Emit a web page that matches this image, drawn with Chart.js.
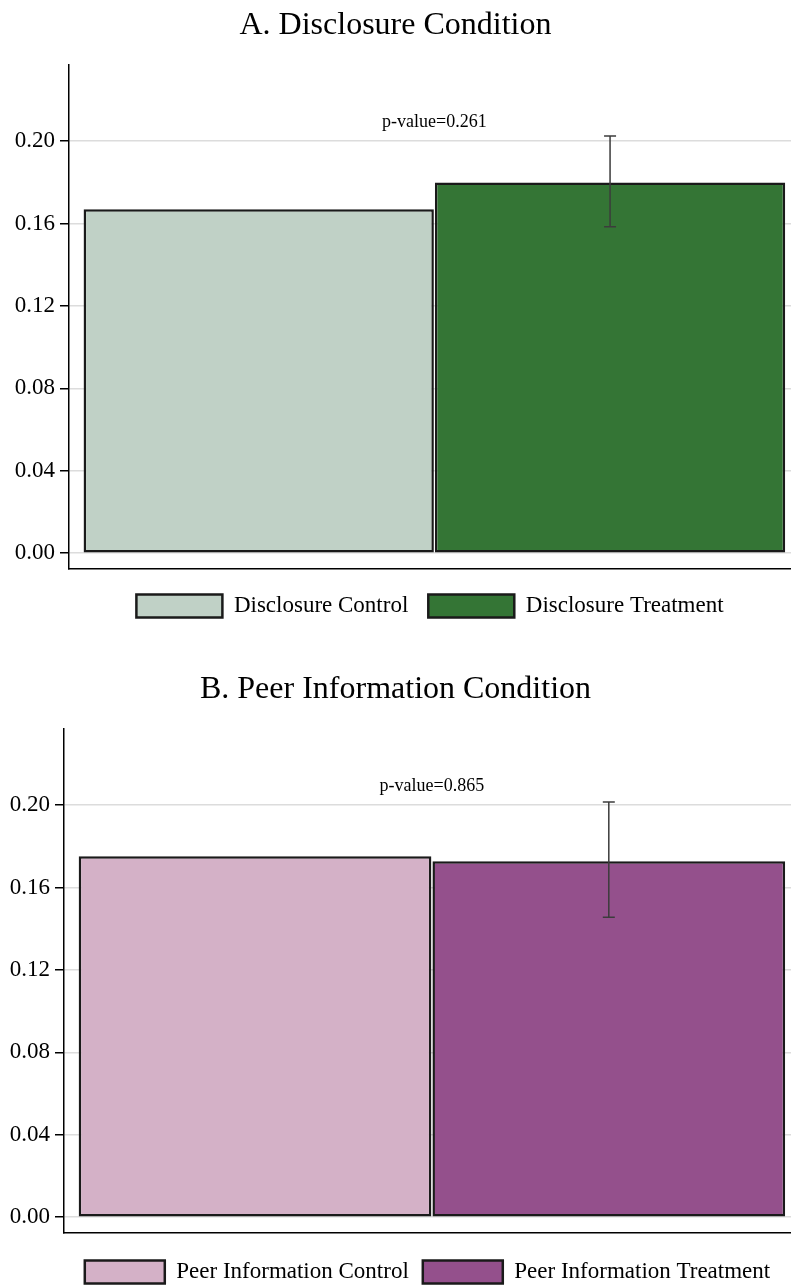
<!DOCTYPE html>
<html>
<head>
<meta charset="utf-8">
<script src="https://cdn.jsdelivr.net/npm/chart.js@4.4.1/dist/chart.umd.min.js"></script>
<style>
    body { margin: 0; background: #ffffff; }
    canvas { display: block; }
</style>
</head>
<body>
<canvas id="disclosureChart" width="791" height="664"></canvas>
<canvas id="peerChart" width="791" height="622"></canvas>
<script>
// shared axis setup
const TICKS = [0, 0.04, 0.08, 0.12, 0.16, 0.20];
const Y_RANGE = [-0.0077, 0.237];
const X_POSITIONS = [0, 1];
const X_RANGE = [-0.54, 1.515];
const PVALUE_AT = 0.209;

// A. Disclosure Condition
const DISC_LABELS = ['Disclosure Control', 'Disclosure Treatment'];
const DISC_MEANS = [0.167, 0.180];
const DISC_CI_LOW = [null, 0.1585];
const DISC_CI_HIGH = [null, 0.2025];
const DISC_PVALUE = 'p-value=0.261';

// B. Peer Information Condition
const PEER_LABELS = ['Peer Information Control', 'Peer Information Treatment'];
const PEER_MEANS = [0.1752, 0.1728];
const PEER_CI_LOW = [null, 0.1456];
const PEER_CI_HIGH = [null, 0.2015];
const PEER_PVALUE = 'p-value=0.865';

const SERIF = "'Liberation Serif', 'Times New Roman', serif";
const EDGE = '#1a1a1a';

// draws the CI whiskers and the p-value label
const errorBarPlugin = {
    id: 'errorBars',
    afterDatasetsDraw(chart, args, opts) {
        const ctx = chart.ctx;
        const yScale = chart.scales.y;
        const xScale = chart.scales.x;
        const bars = chart.getDatasetMeta(0).data;
        ctx.save();
        ctx.strokeStyle = '#3c3c3c';
        ctx.lineWidth = 1.5;
        bars.forEach(function (bar, i) {
            if (opts.low[i] == null) return;
            const yLo = yScale.getPixelForValue(opts.low[i]);
            const yHi = yScale.getPixelForValue(opts.high[i]);
            ctx.beginPath();
            ctx.moveTo(bar.x, yLo); ctx.lineTo(bar.x, yHi);
            ctx.moveTo(bar.x - 6, yLo); ctx.lineTo(bar.x + 6, yLo);
            ctx.moveTo(bar.x - 6, yHi); ctx.lineTo(bar.x + 6, yHi);
            ctx.stroke();
        });
        ctx.fillStyle = '#000';
        ctx.font = '18px ' + SERIF;
        ctx.textAlign = 'center';
        ctx.textBaseline = 'middle';
        ctx.fillText(opts.text, xScale.getPixelForValue(0.5), yScale.getPixelForValue(PVALUE_AT));
        ctx.restore();
    }
};

function makeChart(id, title, labels, means, low, high, pText, colors, lay) {
    const ctx = document.getElementById(id).getContext('2d');
    return new Chart(ctx, {
        type: 'bar',
        data: {
            labels: labels,
            datasets: [{
                label: title,
                data: X_POSITIONS.map((x, i) => ({ x: x, y: means[i] })),
                backgroundColor: colors,
                borderColor: EDGE,
                borderWidth: 2.5,
                borderSkipped: false,
                barPercentage: 0.997,
                categoryPercentage: 1
            }]
        },
        options: {
            responsive: false,
            animation: false,
            layout: { padding: { top: 0, right: 0, left: 0, bottom: lay.bottomPad } },
            plugins: {
                title: {
                    display: true,
                    text: title,
                    color: '#000',
                    font: { family: SERIF, size: 32, weight: 'normal' },
                    padding: { top: 6, bottom: 20.6 }
                },
                legend: {
                    position: 'bottom',
                    fullSize: false,
                    labels: {
                        color: '#000',
                        boxWidth: lay.boxWidth,
                        boxHeight: 23,
                        padding: lay.legendPad,
                        font: { family: SERIF, size: 23 },
                        generateLabels: function (chart) {
                            return chart.data.labels.map(function (text, i) {
                                return {
                                    text: text,
                                    fillStyle: colors[i],
                                    strokeStyle: EDGE,
                                    lineWidth: 2.5,
                                    fontColor: '#000',
                                    hidden: false,
                                    datasetIndex: 0,
                                    index: i
                                };
                            });
                        }
                    }
                },
                tooltip: { enabled: false },
                errorBars: { low: low, high: high, text: pText }
            },
            scales: {
                x: {
                    type: 'linear',
                    offset: false,
                    min: X_RANGE[0],
                    max: X_RANGE[1],
                    afterBuildTicks: function (scale) {
                        scale.ticks = X_POSITIONS.map(v => ({ value: v }));
                    },
                    afterFit: function (scale) { scale.height = lay.xGap; },
                    ticks: { display: false },
                    grid: { display: false, drawTicks: false },
                    border: { display: true, color: '#000', width: 1.5 }
                },
                y: {
                    min: Y_RANGE[0],
                    max: Y_RANGE[1],
                    afterBuildTicks: function (scale) {
                        scale.ticks = TICKS.map(v => ({ value: v }));
                    },
                    afterFit: function (scale) { scale.width = lay.axisWidth; },
                    ticks: {
                        color: '#000',
                        padding: 5,
                        font: { family: SERIF, size: 23 },
                        callback: function (value) { return value.toFixed(2); }
                    },
                    grid: {
                        color: '#dcdcdc',
                        lineWidth: 1.5,
                        tickColor: '#000',
                        tickLength: 9,
                        tickWidth: 1.5
                    },
                    border: { display: true, color: '#000', width: 1.5 }
                }
            }
        },
        plugins: [errorBarPlugin]
    });
}

makeChart('disclosureChart', 'A. Disclosure Condition', DISC_LABELS, DISC_MEANS,
    DISC_CI_LOW, DISC_CI_HIGH, DISC_PVALUE, ['#c0d1c6', '#347535'],
    { axisWidth: 69, boxWidth: 86, legendPad: 20, xGap: 5.5, bottomPad: 36.5 });
makeChart('peerChart', 'B. Peer Information Condition', PEER_LABELS, PEER_MEANS,
    PEER_CI_LOW, PEER_CI_HIGH, PEER_PVALUE, ['#d4b1c7', '#94508c'],
    { axisWidth: 64, boxWidth: 80, legendPad: 14, xGap: 13.5, bottomPad: -7.5 });
</script>
</body>
</html>
